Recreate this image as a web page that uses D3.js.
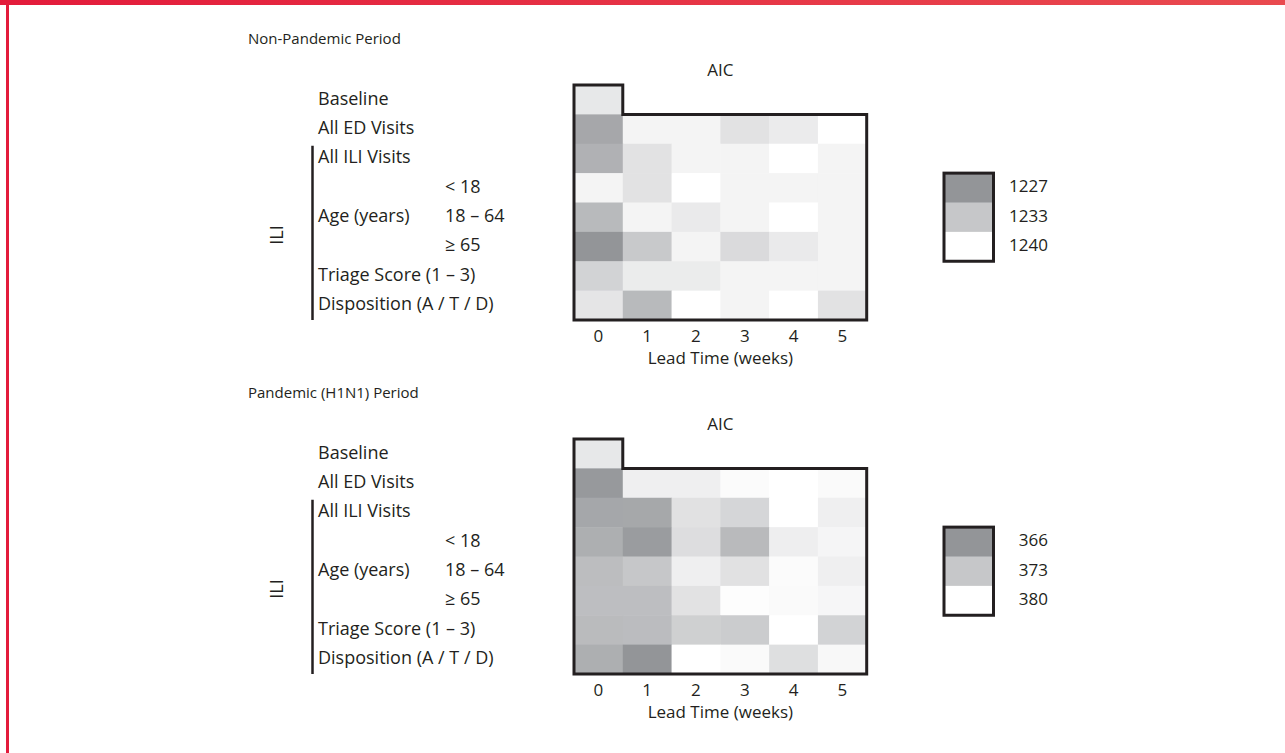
<!DOCTYPE html>
<html>
<head>
<meta charset="utf-8">
<script src="https://cdn.jsdelivr.net/npm/d3@7"></script>
<style>
  body { margin: 0; background: #fff; }
  svg { display: block; font-family: "Open Sans", sans-serif; }
  text { fill: #231f20; }
</style>
</head>
<body>
<svg id="canvas" width="1285" height="753"></svg>
<script>
// ---- data ----
let leadTimes = [0, 1, 2, 3, 4, 5];
let rowLabels = ["Baseline", "All ED Visits", "All ILI Visits", "", "Age (years)", "", "Triage Score (1 – 3)", "Disposition (A / T / D)"];
let ageLabels = ["", "", "", "< 18", "18 – 64", "≥ 65", "", ""];

// AIC by row (model) and lead time; Baseline has only lead 0
let nonPandemicAIC = [
    [1237.1],
    [1229.2, 1238.6, 1238.6, 1236.4, 1237.5, 1240.0],
    [1230.4, 1236.4, 1238.6, 1238.6, 1240.0, 1238.6],
    [1238.6, 1236.4, 1240.0, 1238.6, 1238.6, 1238.6],
    [1231.4, 1238.6, 1237.4, 1238.6, 1240.0, 1238.6],
    [1227.0, 1233.3, 1238.6, 1235.4, 1237.4, 1238.6],
    [1234.5, 1237.6, 1237.6, 1238.6, 1238.6, 1238.6],
    [1236.8, 1231.4, 1240.0, 1238.6, 1240.0, 1236.4]
];
let pandemicAIC = [
    [377.1],
    [366.5, 378.0, 378.0, 379.5, 380.0, 379.4],
    [368.5, 368.6, 376.3, 374.9, 380.0, 378.0],
    [369.6, 367.0, 375.8, 371.2, 377.9, 378.8],
    [371.6, 373.0, 378.0, 376.3, 379.5, 378.0],
    [371.8, 371.8, 376.4, 379.8, 379.4, 378.9],
    [371.3, 371.5, 374.1, 373.6, 380.0, 374.5],
    [369.6, 366.0, 380.0, 379.4, 376.0, 379.1]
];
let nonPandemicLegend = [1227, 1233, 1240];
let pandemicLegend = [366, 373, 380];
let greys = ["#939598", "#c6c7c9", "#ffffff"];

let canvas = d3.select('#canvas');

// red frame of the page
let defs = canvas.append('defs');
let grad = defs.append('linearGradient').attr('id', 'redbar');
grad.append('stop').attr('offset', '0%').attr('stop-color', '#e31b3b');
grad.append('stop').attr('offset', '100%').attr('stop-color', '#e94a4f');
canvas.append('rect').attr('x', 0).attr('y', 0).attr('width', 1285).attr('height', 5).attr('fill', 'url(#redbar)');
canvas.append('rect').attr('x', 6).attr('y', 0).attr('width', 3).attr('height', 753).attr('fill', '#e31b3b');

let titleSize = 15;
let labelSize = 18;
let axisSize = 17;

let drawPanel = (title, values, legendValues, top) => {
    let g = canvas.append('g').attr('transform', 'translate(0,' + top + ')');

    let x = d3.scaleBand().domain(leadTimes).range([574, 866.7]);
    let y = d3.scaleBand().domain(d3.range(rowLabels.length)).range([85, 320]);
    let color = d3.scaleLinear().domain(legendValues).range(greys).clamp(true);

    g.append('text')
        .attr('x', 248).attr('y', 40)
        .attr('dominant-baseline', 'middle')
        .style('font-size', titleSize + 'px')
        .text(title);

    g.append('text')
        .attr('x', (x.range()[0] + x.range()[1]) / 2).attr('y', 71)
        .attr('text-anchor', 'middle')
        .attr('dominant-baseline', 'middle')
        .style('font-size', axisSize + 'px')
        .text('AIC');

    // cells
    let cells = [];
    values.forEach((row, r) => {
        row.forEach((v, c) => {
            cells.push({ row: r, lead: leadTimes[c], value: v });
        });
    });
    g.selectAll('rect.cell')
        .data(cells)
        .enter()
        .append('rect')
        .attr('class', 'cell')
        .attr('x', (d) => x(d.lead))
        .attr('y', (d) => y(d.row))
        .attr('width', x.bandwidth() + 0.5)
        .attr('height', y.bandwidth() + 0.5)
        .attr('fill', (d) => color(d.value));

    // outline around the cells (baseline tab on top-left)
    let x0 = x(0), x1 = x(0) + x.bandwidth(), xr = x(5) + x.bandwidth();
    let y0 = y(0), y1 = y(1), yb = y(7) + y.bandwidth();
    g.append('path')
        .attr('d', `M${x0},${y0}H${x1}V${y1}H${xr}V${yb}H${x0}Z`)
        .attr('fill', 'none')
        .attr('stroke', '#231f20')
        .attr('stroke-width', 3);

    // x axis
    let axis = g.append('g')
        .attr('transform', 'translate(0,' + (yb + 5) + ')')
        .call(d3.axisBottom(x).tickSize(0).tickPadding(5));
    axis.select('.domain').remove();
    axis.selectAll('text')
        .style('font-size', axisSize + 'px')
        .style('font-family', '"Open Sans", sans-serif')
        .attr('fill', '#231f20');

    g.append('text')
        .attr('x', (x.range()[0] + x.range()[1]) / 2).attr('y', 359)
        .attr('text-anchor', 'middle')
        .attr('dominant-baseline', 'middle')
        .style('font-size', axisSize + 'px')
        .text('Lead Time (weeks)');

    // row labels
    g.selectAll('text.rowlabel')
        .data(rowLabels)
        .enter()
        .append('text')
        .attr('class', 'rowlabel')
        .attr('x', 318)
        .attr('y', (d, i) => y(i) + y.bandwidth() / 2)
        .attr('dominant-baseline', 'middle')
        .style('font-size', labelSize + 'px')
        .text((d) => d);

    g.selectAll('text.agelabel')
        .data(ageLabels)
        .enter()
        .append('text')
        .attr('class', 'agelabel')
        .attr('x', 445)
        .attr('y', (d, i) => y(i) + y.bandwidth() / 2)
        .attr('dominant-baseline', 'middle')
        .style('font-size', labelSize + 'px')
        .text((d) => d);

    // ILI bracket
    g.append('line')
        .attr('x1', 312.5).attr('x2', 312.5)
        .attr('y1', y(2) + 2).attr('y2', yb)
        .attr('stroke', '#231f20')
        .attr('stroke-width', 2.5);
    g.append('text')
        .attr('transform', 'translate(278,' + 235 + ') rotate(-90)')
        .attr('text-anchor', 'middle')
        .attr('dominant-baseline', 'middle')
        .style('font-size', labelSize + 'px')
        .text('ILI');

    // legend
    let ly = d3.scaleBand().domain(legendValues).range([y(3), y(3) + 3 * y.bandwidth()]);
    let legend = g.append('g');
    legend.selectAll('rect')
        .data(legendValues)
        .enter()
        .append('rect')
        .attr('x', 944)
        .attr('y', (d) => ly(d))
        .attr('width', 49.5)
        .attr('height', ly.bandwidth() + 0.5)
        .attr('fill', (d) => color(d));
    legend.append('rect')
        .attr('x', 944).attr('y', ly.range()[0])
        .attr('width', 49.5).attr('height', ly.range()[1] - ly.range()[0])
        .attr('fill', 'none')
        .attr('stroke', '#231f20')
        .attr('stroke-width', 3);
    legend.selectAll('text')
        .data(legendValues)
        .enter()
        .append('text')
        .attr('x', 1048)
        .attr('y', (d) => ly(d) + ly.bandwidth() / 2)
        .attr('text-anchor', 'end')
        .attr('dominant-baseline', 'middle')
        .style('font-size', axisSize + 'px')
        .text((d) => d);
};

drawPanel('Non-Pandemic Period', nonPandemicAIC, nonPandemicLegend, 0);
drawPanel('Pandemic (H1N1) Period', pandemicAIC, pandemicLegend, 354);
</script>
</body>
</html>
